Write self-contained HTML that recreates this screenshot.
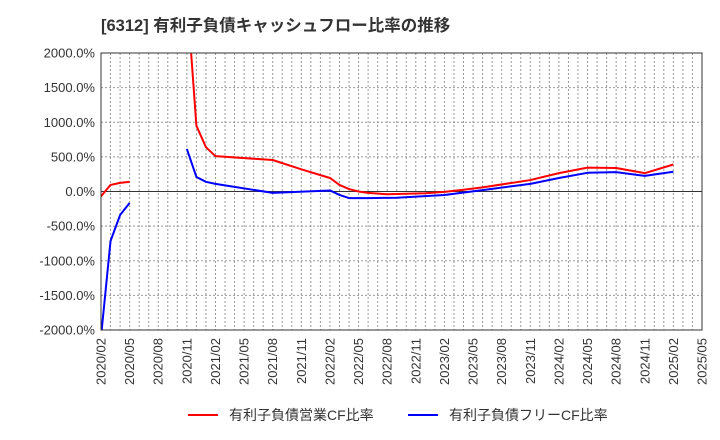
<!DOCTYPE html>
<html><head><meta charset="utf-8">
<style>
html,body{margin:0;padding:0;background:#fff;}
svg{display:block;font-family:"Liberation Sans","Noto Sans CJK JP",sans-serif;}
</style></head>
<body>
<svg id="chart" width="720" height="440" xmlns="http://www.w3.org/2000/svg">
<text x="101" y="31" font-size="16.5" font-weight="bold" fill="#333">[6312]  有利子負債キャッシュフロー比率の推移</text>
<g id="grid"></g>
<g id="yticks"></g>
<g id="xticks"></g>
<defs><clipPath id="clip"><rect x="101" y="53" width="601" height="277"/></clipPath></defs>
<g id="series" clip-path="url(#clip)"></g>
<rect x="101" y="53" width="601" height="277" fill="none" stroke="#333" stroke-width="1"/>
<g>
<line x1="188" y1="415" x2="218" y2="415" stroke="#f00" stroke-width="2"/>
<text x="229" y="420" font-size="14" fill="#333">有利子負債営業CF比率</text>
<line x1="408" y1="415" x2="438" y2="415" stroke="#00f" stroke-width="2"/>
<text x="449" y="420" font-size="14" fill="#333">有利子負債フリーCF比率</text>
</g>
</svg>
<script>
const xTickLabels = ["2020/02","2020/05","2020/08","2020/11","2021/02","2021/05","2021/08","2021/11","2022/02","2022/05","2022/08","2022/11","2023/02","2023/05","2023/08","2023/11","2024/02","2024/05","2024/08","2024/11","2025/02","2025/05"];
const yTickValues = [-2000,-1500,-1000,-500,0,500,1000,1500,2000];
// month index from 2020/02
const redSeg1Months = [0,1,2,3];
const redSeg1Values = [-70,95,125,140];
const redSeg2Months = [9,10,11,12,18,21,24,25,26,27,28,30,34,36,38,40,45,48,51,54,57,60];
const redSeg2Values = [2850,950,640,510,455,320,195,95,35,0,-20,-40,-25,-5,25,60,165,265,345,340,265,390];
const blueSeg1Months = [0,1,2,3];
const blueSeg1Values = [-2100,-715,-340,-165];
const blueSeg2Months = [9,10,11,12,18,24,25,26,28,31,36,40,45,48,51,54,57,60];
const blueSeg2Values = [615,210,140,110,-20,15,-50,-95,-95,-90,-50,20,110,195,270,280,225,285];

const X0=101,X1=702,Y0=53,Y1=330,NM=63;
const xs=m=>X0+(X1-X0)*m/NM;
const ys=v=>Y1-(v+2000)/4000*(Y1-Y0);
const NS="http://www.w3.org/2000/svg";
function mk(tag,attrs,parent){const e=document.createElementNS(NS,tag);for(const k in attrs)e.setAttribute(k,attrs[k]);document.getElementById(parent).appendChild(e);return e;}

for(let m=1;m<NM;m++){
  const l=mk('line',{x1:xs(m),x2:xs(m),y1:Y0,y2:Y1,stroke:'#999','stroke-width':1,'stroke-dasharray':'2,2'},'grid');
  
  
}
yTickValues.forEach(v=>{
  const y=ys(v);
  if(v>-2000&&v<2000){
    const l=mk('line',{x1:X0,x2:X1,y1:y,y2:y,stroke:v===0?'#333':'#999','stroke-width':1,'stroke-dasharray':v===0?'':'2,2'},'grid');
    
    
  }
  const t=mk('text',{x:95,y:y+4.5,'text-anchor':'end','font-size':13,fill:'#333'},'yticks');
  t.textContent=v.toFixed(1)+'%';
  
  
});
xTickLabels.forEach((s,i)=>{
  const x=xs(i*3);
  const t=mk('text',{x:0,y:0,'text-anchor':'end','font-size':13,fill:'#333',transform:`translate(${x+4.5},338) rotate(-90)`},'xticks');
  t.textContent=s;
  
  
});
function line(ms,vs,color,name){
  const p=mk('polyline',{points:ms.map((m,i)=>xs(m)+','+ys(vs[i])).join(' '),fill:'none',stroke:color,'stroke-width':2,'stroke-linejoin':'round'},'series');
  
  
}
line(redSeg1Months,redSeg1Values,'#f00','operating-cf-line-1');
line(redSeg2Months,redSeg2Values,'#f00','operating-cf-line-2');
line(blueSeg1Months,blueSeg1Values,'#00f','free-cf-line-1');
line(blueSeg2Months,blueSeg2Values,'#00f','free-cf-line-2');
</script>
</body></html>
